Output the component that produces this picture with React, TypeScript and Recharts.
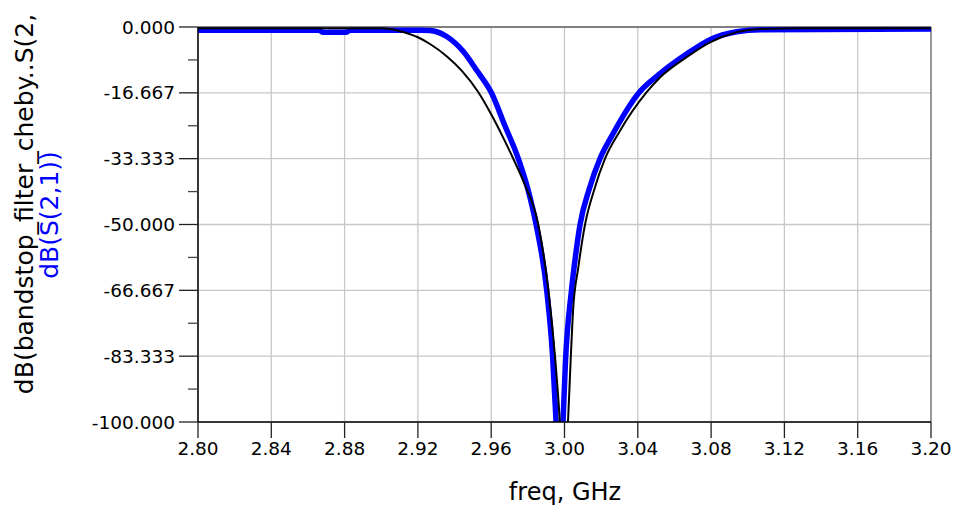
import React from "react";
import {
  CartesianGrid,
  Label,
  Line,
  LineChart,
  ReferenceLine,
  XAxis,
  YAxis,
} from "recharts";

// black trace (bandstop_filter_cheby..S(2,1))
const freqCheby = [
  2.8, 2.85, 2.9, 2.905, 2.91, 2.915, 2.92, 2.9266, 2.9357, 2.944, 2.953,
  2.96, 2.966, 2.972, 2.9784, 2.9857, 2.9912, 2.9948, 2.9975, 2.9997, 3.0019,
  3.0033, 3.0047, 3.0075, 3.0112, 3.016, 3.0221, 3.03, 3.0445, 3.0521, 3.0668,
  3.0794, 3.094, 3.107, 3.13, 3.2,
];
const dbCheby = [
  -0.3, -0.3, -0.3, -0.5, -1.0, -1.7, -2.6, -4.3, -7.4, -11.1, -16.5, -22.1,
  -27.5, -33.3, -40, -50, -66.7, -83.3, -100, -118, -100, -85, -71.6, -61,
  -50, -41.5, -33.3, -26.5, -16.7, -12.8, -7.6, -3.9, -1.3, -0.5, -0.3, -0.3,
];

// blue trace dB(S(2,1))
const freqS21 = [
  2.8, 2.866, 2.868, 2.881, 2.883, 2.922, 2.9266, 2.9302, 2.9357, 2.9448,
  2.952, 2.9602, 2.9675, 2.9748, 2.98, 2.9845, 2.9903, 2.9935, 2.9954, 2.9973,
  2.9992, 3.0005, 3.0038, 3.006, 3.0085, 3.0135, 3.0194, 3.0259, 3.0405,
  3.0521, 3.0668, 3.0794, 3.094, 3.107, 3.2,
];
const dbS21 = [
  -0.8, -0.8, -1.3, -1.3, -0.8, -0.8, -0.9, -1.2, -2.4, -6.2, -10.9, -16.7,
  -25, -33.3, -41, -50, -66.7, -83.3, -100, -118, -100, -85, -66.7, -58, -50,
  -41, -33.3, -27.5, -16.7, -11.8, -6.8, -3.2, -1.2, -0.7, -0.5,
];

const xTicks = [
  2.8, 2.84, 2.88, 2.92, 2.96, 3.0, 3.04, 3.08, 3.12, 3.16, 3.2,
];
const yMajor = [0, -16.666667, -33.333333, -50, -66.666667, -83.333333, -100];
const yMinor = [-8.333333, -25, -41.666667, -58.333333, -75, -91.666667];

const FONT = "'DejaVu Sans', Verdana, sans-serif";

const chebyData = freqCheby.map((f, i) => ({ f, v: dbCheby[i] }));
const s21Data = freqS21.map((f, i) => ({ f, v: dbS21[i] }));
const yTicks = [...yMajor, ...yMinor].sort((a, b) => b - a);

function YTick({ x = 0, y = 0, payload }: any) {
  const v: number = payload?.value ?? 0;
  const major = yMajor.some((m) => Math.abs(m - v) < 1e-4);
  return (
    <g>
      <line
        x1={x - (major ? 19 : 10)}
        x2={x}
        y1={y}
        y2={y}
        stroke={major ? "#222" : "#444"}
        strokeWidth={1.3}
      />
      {major && (
        <text
          x={x - 23}
          y={y}
          textAnchor="end"
          dominantBaseline="central"
          fontSize={18.5}
          fontFamily={FONT}
          fill="#000"
        >
          {v.toFixed(3)}
        </text>
      )}
    </g>
  );
}

function YTitle() {
  return (
    <g fontFamily={FONT} fontSize={25}>
      <text
        x={33}
        y={204}
        textAnchor="middle"
        transform="rotate(-90, 33, 204)"
        fill="#000"
      >
        dB(bandstop_filter_cheby..S(2,
      </text>
      <text
        x={58}
        y={215}
        textAnchor="middle"
        transform="rotate(-90, 58, 215)"
        fill="#0000ff"
      >
        dB(S(2,1))
      </text>
    </g>
  );
}

export default function App() {
  return (
    <div style={{ position: "absolute", left: 0, top: 0, background: "#fff" }}>
      <LineChart
        width={957}
        height={508}
        margin={{ top: 27, right: 26, bottom: 0, left: 0 }}
      >
        <CartesianGrid
          stroke="#c8c8c8"
          strokeWidth={1.3}
          horizontalValues={yMajor}
        />
        <ReferenceLine y={0} stroke="#808080" strokeWidth={2} />
        <ReferenceLine x={3.2} stroke="#808080" strokeWidth={1.5} />
        <XAxis
          type="number"
          dataKey="f"
          domain={[2.8, 3.2]}
          ticks={xTicks}
          allowDataOverflow
          height={86}
          tickSize={16}
          tickMargin={4}
          stroke="#000"
          axisLine={{ stroke: "#000", strokeWidth: 1.5 }}
          tickLine={{ stroke: "#222", strokeWidth: 1.3 }}
          tick={{ fontSize: 18.5, fontFamily: FONT, fill: "#000" }}
          tickFormatter={(v: number) => v.toFixed(2)}
        >
          <Label
            content={() => (
              <text
                x={565}
                y={500}
                textAnchor="middle"
                fontSize={24}
                fontFamily={FONT}
                fill="#000"
              >
                freq, GHz
              </text>
            )}
          />
        </XAxis>
        <YAxis
          type="number"
          domain={[-100, 0]}
          ticks={yTicks}
          allowDataOverflow
          width={198}
          tickSize={0}
          tickMargin={0}
          interval={0}
          tickLine={false}
          axisLine={{ stroke: "#000", strokeWidth: 1.5 }}
          tick={<YTick />}
        >
          <Label content={() => <YTitle />} />
        </YAxis>
        <Line
          data={s21Data}
          dataKey="v"
          type="monotone"
          stroke="#0000ff"
          strokeWidth={5.5}
          dot={false}
          isAnimationActive={false}
        />
        <Line
          data={chebyData}
          dataKey="v"
          type="monotone"
          stroke="#000"
          strokeWidth={2}
          dot={false}
          isAnimationActive={false}
        />
      </LineChart>
    </div>
  );
}
